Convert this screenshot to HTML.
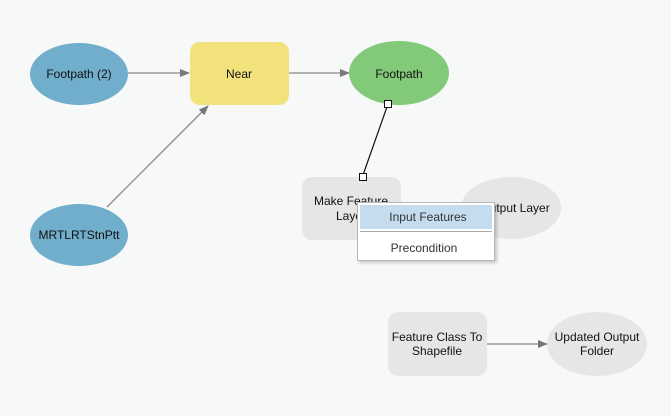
<!DOCTYPE html>
<html><head><style>
body{margin:0;width:671px;height:416px;background:#f7f8f8;overflow:hidden;font-family:"Liberation Sans",sans-serif}
.menu{position:absolute;left:357px;top:202px;width:136px;height:57px;background:#fff;border:1px solid #b8b8b8;box-shadow:2px 2px 3px rgba(0,0,0,.2);font-size:12px;color:#333}
</style></head><body>
<svg width="671" height="416" style="position:absolute;left:0;top:0" font-family="Liberation Sans, sans-serif" font-size="12">
<defs><marker id="a" markerWidth="10" markerHeight="8" refX="9" refY="4" orient="auto" markerUnits="userSpaceOnUse"><path d="M0,0L10,4L0,8z" fill="#777"/></marker></defs>
<g stroke="#888" stroke-width="1.3" fill="none">
<line x1="128" y1="73" x2="189" y2="73" marker-end="url(#a)"/>
<line x1="289" y1="73" x2="349" y2="73" marker-end="url(#a)"/>
<line x1="107" y1="207" x2="208" y2="106" marker-end="url(#a)"/>
<line x1="487" y1="344" x2="547" y2="344" marker-end="url(#a)"/>
</g>
<ellipse cx="79" cy="74" rx="49" ry="31" fill="#70aecb"/>
<rect x="190" y="42" width="99" height="63" rx="10" fill="#f2e27c"/>
<ellipse cx="399" cy="73" rx="50" ry="32" fill="#82c97a"/>
<ellipse cx="79" cy="235" rx="49" ry="31" fill="#70aecb"/>
<rect x="302" y="177" width="99" height="63" rx="10" fill="#e6e6e6"/>
<ellipse cx="511" cy="208" rx="50" ry="31" fill="#e6e6e6"/>
<rect x="388" y="312" width="99" height="64" rx="10" fill="#e6e6e6"/>
<ellipse cx="597" cy="344" rx="50" ry="32" fill="#e6e6e6"/>
<line x1="388" y1="104" x2="363" y2="175" stroke="#111" stroke-width="1.2"/>
<rect x="384.5" y="100.5" width="7" height="7" fill="#fff" stroke="#111"/>
<rect x="359.5" y="173.5" width="7" height="7" fill="#fff" stroke="#111"/>
<g fill="#111" text-anchor="middle">
<text x="79" y="78">Footpath (2)</text>
<text x="239" y="78">Near</text>
<text x="399" y="78">Footpath</text>
<text x="79" y="239">MRTLRTStnPtt</text>
<text x="351" y="205">Make Feature</text>
<text x="351" y="220">Layer</text>
<text x="515" y="212">Output Layer</text>
<text x="437" y="341">Feature Class To</text>
<text x="437" y="355">Shapefile</text>
<text x="597" y="341">Updated Output</text>
<text x="597" y="355">Folder</text>
</g>
</svg>
<div class="menu">
<div style="position:absolute;left:2px;top:2px;width:132px;height:24px;background:#c5dcef"></div>
<div style="position:absolute;left:0;top:7px;width:140px;text-align:center">Input Features</div>
<div style="position:absolute;left:2px;top:28px;width:132px;height:1px;background:#aaa"></div>
<div style="position:absolute;left:0;top:38px;width:132px;text-align:center">Precondition</div>
</div>
</body></html>
